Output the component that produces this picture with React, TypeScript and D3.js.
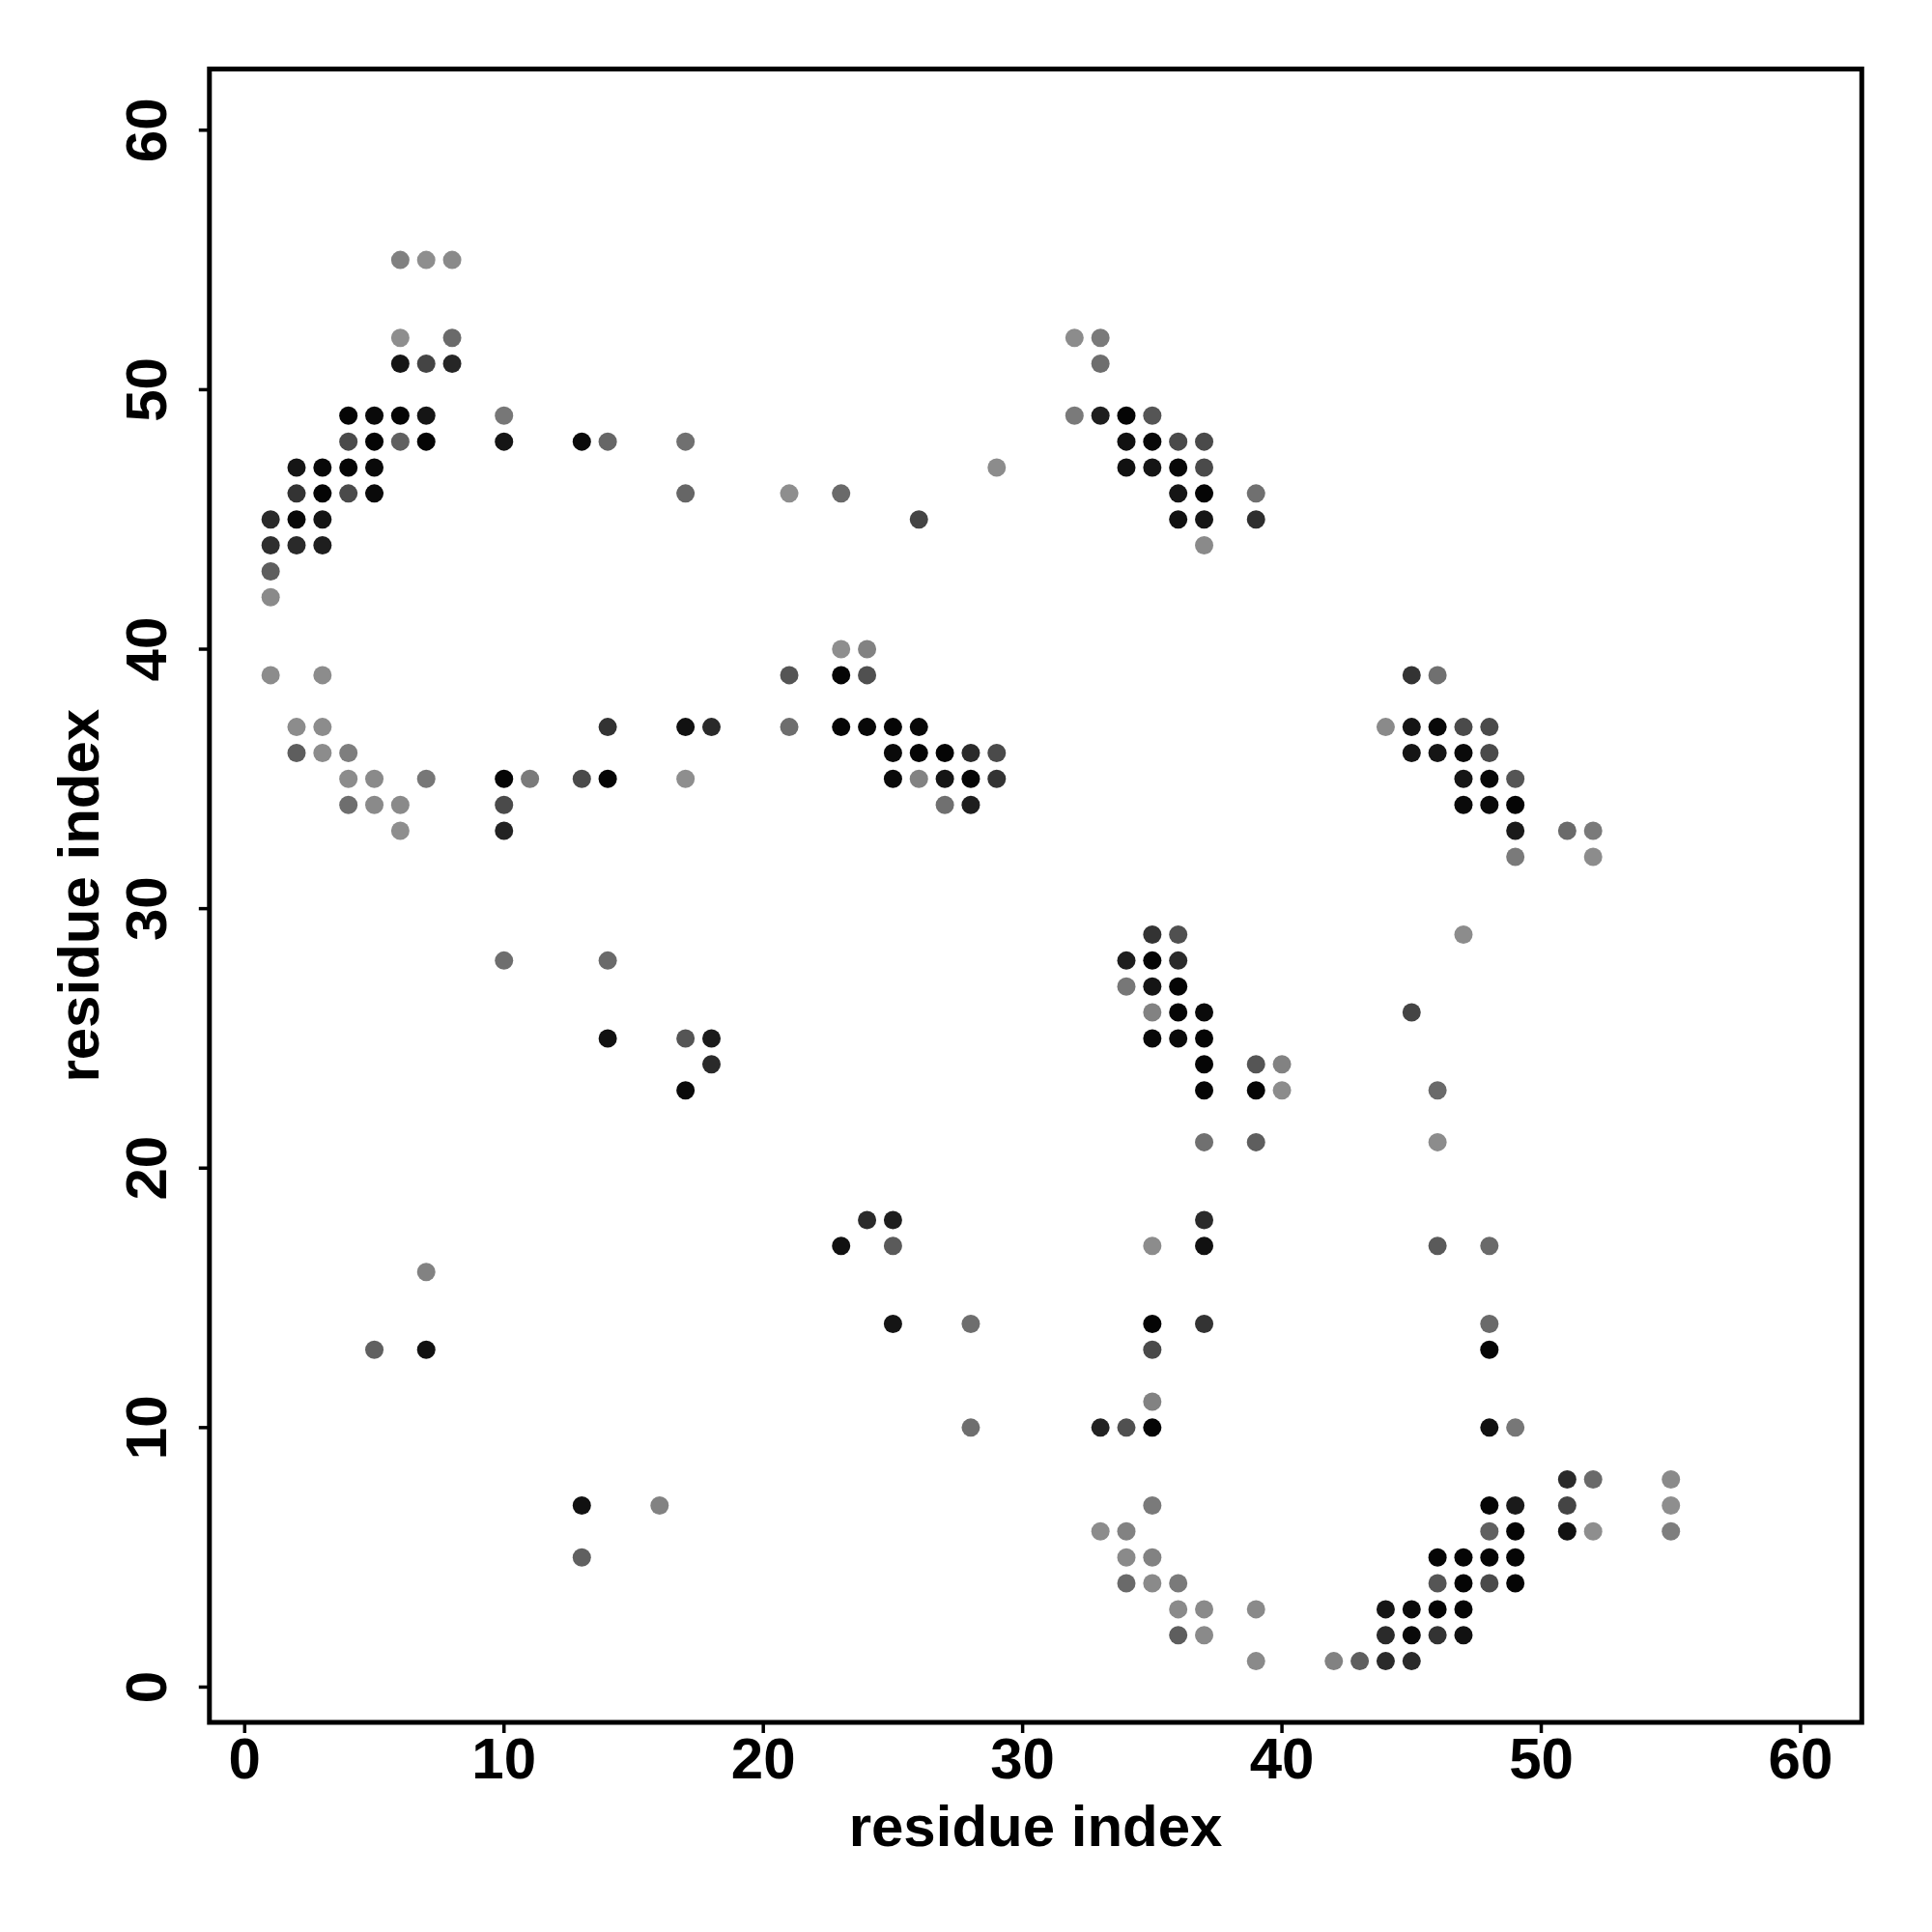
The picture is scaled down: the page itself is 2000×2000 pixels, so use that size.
import React from "react";
import * as d3 from "d3";

// Axis ticks
const xTicks = [0, 10, 20, 30, 40, 50, 60];
const yTicks = [0, 10, 20, 30, 40, 50, 60];
const xTitle = "residue index";
const yTitle = "residue index";

// Contacts: [residue i (x), residue j (y), gray level 0-255]
const contacts: [number, number, number][] = [
  // row 55
  [6, 55, 0x80], [7, 55, 0x8e], [8, 55, 0x8a],
  // row 52
  [6, 52, 0x8e], [8, 52, 0x6a], [32, 52, 0x8c], [33, 52, 0x7a],
  // row 51
  [6, 51, 0x15], [7, 51, 0x44], [8, 51, 0x26], [33, 51, 0x6e],
  // row 49
  [4, 49, 0x05], [5, 49, 0x0a], [6, 49, 0x05], [7, 49, 0x15], [10, 49, 0x77],
  [32, 49, 0x7a], [33, 49, 0x1e], [34, 49, 0x05], [35, 49, 0x55],
  // row 48
  [4, 48, 0x4a], [5, 48, 0x05], [6, 48, 0x60], [7, 48, 0x05], [10, 48, 0x15],
  [13, 48, 0x0a], [14, 48, 0x66], [17, 48, 0x70], [34, 48, 0x11], [35, 48, 0x08],
  [36, 48, 0x4a], [37, 48, 0x4a],
  // row 47
  [2, 47, 0x15], [3, 47, 0x08], [4, 47, 0x05], [5, 47, 0x0a], [29, 47, 0x8c],
  [34, 47, 0x11], [35, 47, 0x15], [36, 47, 0x08], [37, 47, 0x4a],
  // row 46
  [2, 46, 0x33], [3, 46, 0x05], [4, 46, 0x4a], [5, 46, 0x0a], [17, 46, 0x66],
  [21, 46, 0x8e], [23, 46, 0x6a], [36, 46, 0x15], [37, 46, 0x05], [39, 46, 0x70],
  // row 45
  [1, 45, 0x2a], [2, 45, 0x08], [3, 45, 0x15], [26, 45, 0x44], [36, 45, 0x11],
  [37, 45, 0x15], [39, 45, 0x2e],
  // row 44
  [1, 44, 0x2e], [2, 44, 0x2a], [3, 44, 0x1e], [37, 44, 0x8a],
  // rows 43, 42
  [1, 43, 0x5e], [1, 42, 0x8a],
  // row 40
  [23, 40, 0x8e], [24, 40, 0x82],
  // row 39
  [1, 39, 0x8c], [3, 39, 0x8c], [21, 39, 0x55], [23, 39, 0x05], [24, 39, 0x50],
  [45, 39, 0x33], [46, 39, 0x70],
  // row 37
  [2, 37, 0x8c], [3, 37, 0x8c], [14, 37, 0x33], [17, 37, 0x11], [18, 37, 0x2a],
  [21, 37, 0x6e], [23, 37, 0x05], [24, 37, 0x08], [25, 37, 0x05], [26, 37, 0x08],
  [44, 37, 0x8a], [45, 37, 0x15], [46, 37, 0x08], [47, 37, 0x4a], [48, 37, 0x4a],
  // row 36
  [2, 36, 0x5e], [3, 36, 0x8c], [4, 36, 0x7e], [25, 36, 0x0a], [26, 36, 0x05],
  [27, 36, 0x05], [28, 36, 0x2a], [29, 36, 0x4a], [45, 36, 0x15], [46, 36, 0x15],
  [47, 36, 0x0a], [48, 36, 0x4a],
  // row 35
  [4, 35, 0x8c], [5, 35, 0x8a], [7, 35, 0x77], [10, 35, 0x05], [11, 35, 0x7a],
  [13, 35, 0x4a], [14, 35, 0x05], [17, 35, 0x8e], [25, 35, 0x0a], [26, 35, 0x82],
  [27, 35, 0x15], [28, 35, 0x05], [29, 35, 0x33], [47, 35, 0x15], [48, 35, 0x08],
  [49, 35, 0x55],
  // row 34
  [4, 34, 0x6e], [5, 34, 0x8a], [6, 34, 0x8a], [10, 34, 0x4a], [27, 34, 0x70],
  [28, 34, 0x1e], [47, 34, 0x0a], [48, 34, 0x0a], [49, 34, 0x05],
  // row 33
  [6, 33, 0x8e], [10, 33, 0x22], [49, 33, 0x1a], [51, 33, 0x6a], [52, 33, 0x7a],
  // row 32
  [49, 32, 0x7a], [52, 32, 0x8c],
  // row 29
  [35, 29, 0x33], [36, 29, 0x50], [47, 29, 0x8c],
  // row 28
  [10, 28, 0x6e], [14, 28, 0x6a], [34, 28, 0x1e], [35, 28, 0x05], [36, 28, 0x2a],
  // row 27
  [34, 27, 0x77], [35, 27, 0x15], [36, 27, 0x05],
  // row 26
  [35, 26, 0x82], [36, 26, 0x05], [37, 26, 0x0a], [45, 26, 0x44],
  // row 25
  [14, 25, 0x11], [17, 25, 0x55], [18, 25, 0x1a], [35, 25, 0x08], [36, 25, 0x0a],
  [37, 25, 0x05],
  // row 24
  [18, 24, 0x2a], [37, 24, 0x05], [39, 24, 0x55], [40, 24, 0x82],
  // row 23
  [17, 23, 0x0a], [37, 23, 0x05], [39, 23, 0x05], [40, 23, 0x8c], [46, 23, 0x6a],
  // row 21
  [37, 21, 0x70], [39, 21, 0x5e], [46, 21, 0x8c],
  // row 18
  [24, 18, 0x2a], [25, 18, 0x1e], [37, 18, 0x2a],
  // row 17
  [23, 17, 0x11], [25, 17, 0x5a], [35, 17, 0x8c], [37, 17, 0x11], [46, 17, 0x5a],
  [48, 17, 0x6a],
  // row 16
  [7, 16, 0x82],
  // row 14
  [25, 14, 0x15], [28, 14, 0x6e], [35, 14, 0x05], [37, 14, 0x33], [48, 14, 0x6a],
  // row 13
  [5, 13, 0x60], [7, 13, 0x11], [35, 13, 0x4a], [48, 13, 0x05],
  // row 11
  [35, 11, 0x82],
  // row 10
  [28, 10, 0x6e], [33, 10, 0x22], [34, 10, 0x50], [35, 10, 0x05], [48, 10, 0x11],
  [49, 10, 0x77],
  // row 8
  [51, 8, 0x2a], [52, 8, 0x6a], [55, 8, 0x8a],
  // row 7
  [13, 7, 0x11], [16, 7, 0x82], [35, 7, 0x7a], [48, 7, 0x05], [49, 7, 0x1a],
  [51, 7, 0x44], [55, 7, 0x8e],
  // row 6
  [33, 6, 0x8c], [34, 6, 0x82], [48, 6, 0x60], [49, 6, 0x05], [51, 6, 0x11],
  [52, 6, 0x8e], [55, 6, 0x7e],
  // row 5
  [13, 5, 0x60], [34, 5, 0x8a], [35, 5, 0x82], [46, 5, 0x05], [47, 5, 0x05],
  [48, 5, 0x05], [49, 5, 0x05],
  // row 4
  [34, 4, 0x6a], [35, 4, 0x8a], [36, 4, 0x7a], [46, 4, 0x55], [47, 4, 0x05],
  [48, 4, 0x4a], [49, 4, 0x05],
  // row 3
  [36, 3, 0x8a], [37, 3, 0x8a], [39, 3, 0x8a], [44, 3, 0x15], [45, 3, 0x0a],
  [46, 3, 0x05], [47, 3, 0x05],
  // row 2
  [36, 2, 0x5e], [37, 2, 0x8a], [44, 2, 0x2a], [45, 2, 0x0a], [46, 2, 0x33],
  [47, 2, 0x11],
  // row 1
  [39, 1, 0x8a], [42, 1, 0x82], [43, 1, 0x5e], [44, 1, 0x2a], [45, 1, 0x2a],
];

const domain: [number, number] = [1 - 0.04 * 59, 60 + 0.04 * 59];

export default function App() {
  const left = 216.8, right = 1927.3, top = 71.4, bottom = 1783;
  const x = d3.scaleLinear().domain(domain).range([left, right]);
  const y = d3.scaleLinear().domain(domain).range([bottom, top]);
  const font = "'Liberation Sans', Arial, Helvetica, sans-serif";
  const gray = (g: number) => d3.rgb(g, g, g).formatHex();

  return (
    <svg
      width={2000}
      height={2000}
      style={{ position: "absolute", left: 0, top: 0, background: "#fff" }}
      xmlns="http://www.w3.org/2000/svg"
    >
      <rect x={0} y={0} width={2000} height={2000} fill="#fff" />
      {contacts.map(([i, j, g], k) => (
        <circle key={k} cx={x(i)} cy={y(j)} r={9.5} fill={gray(g)} />
      ))}
      <rect
        x={left}
        y={top}
        width={right - left}
        height={bottom - top}
        fill="none"
        stroke="#000"
        strokeWidth={5}
      />
      {xTicks.map((t) => (
        <g key={"xt" + t}>
          <line x1={x(t)} x2={x(t)} y1={bottom} y2={bottom + 11} stroke="#000" strokeWidth={3.5} />
          <text
            x={x(t)}
            y={1841}
            textAnchor="middle"
            fontFamily={font}
            fontWeight="bold"
            fontSize={60}
            fill="#000"
          >
            {t}
          </text>
        </g>
      ))}
      {yTicks.map((t) => (
        <g key={"yt" + t}>
          <line x1={left} x2={left - 11} y1={y(t)} y2={y(t)} stroke="#000" strokeWidth={3.5} />
          <text
            transform={`translate(172, ${y(t)}) rotate(-90)`}
            textAnchor="middle"
            fontFamily={font}
            fontWeight="bold"
            fontSize={60}
            fill="#000"
          >
            {t}
          </text>
        </g>
      ))}
      <text
        x={(left + right) / 2}
        y={1911}
        textAnchor="middle"
        fontFamily={font}
        fontWeight="bold"
        fontSize={60}
        fill="#000"
      >
        {xTitle}
      </text>
      <text
        transform={`translate(102, ${(top + bottom) / 2}) rotate(-90)`}
        textAnchor="middle"
        fontFamily={font}
        fontWeight="bold"
        fontSize={60}
        fill="#000"
      >
        {yTitle}
      </text>
    </svg>
  );
}
